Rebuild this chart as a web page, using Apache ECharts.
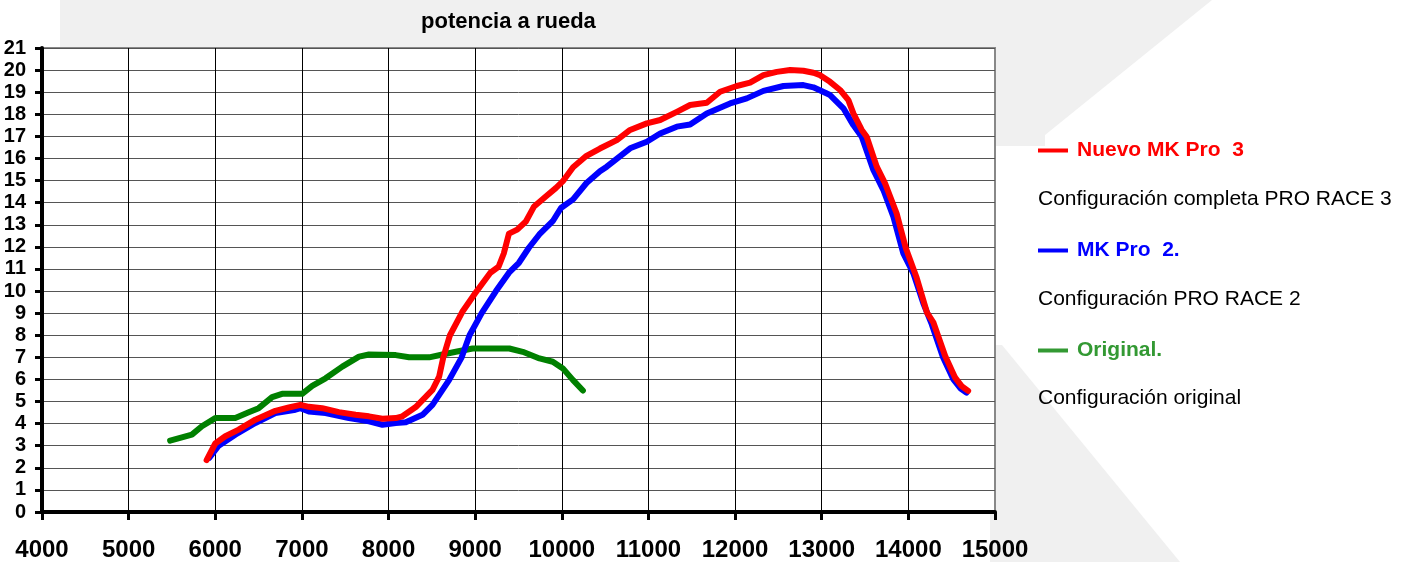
<!DOCTYPE html>
<meta charset="utf-8">
<title>potencia a rueda</title>
<style>
body { margin: 0; background: #fff; }
#main { width: 1401px; height: 562px; }
</style>
<body>
<div id="main"></div>
<script src="https://cdn.jsdelivr.net/npm/echarts@6/dist/echarts.min.js"></script>
<script>
// curvas de potencia [rpm, cv]
var nuevoMkPro3 = [
  [5900, 2.35], [6000, 3.1], [6116, 3.43], [6270, 3.73], [6463, 4.18], [6694, 4.58],
  [6849, 4.73], [6984, 4.85], [7080, 4.76], [7234, 4.7], [7427, 4.52], [7620, 4.4],
  [7774, 4.33], [7929, 4.22], [8083, 4.25], [8160, 4.33], [8314, 4.75], [8507, 5.53],
  [8584, 6.13], [8632, 7.0], [8709, 8.0], [8850, 9.05], [9000, 9.9], [9175, 10.83],
  [9270, 11.1], [9330, 11.7], [9390, 12.6], [9485, 12.78], [9585, 13.15], [9680, 13.83],
  [9815, 14.28], [9930, 14.66], [10010, 14.96], [10130, 15.6], [10285, 16.12], [10440, 16.45],
  [10635, 16.83], [10788, 17.29], [10981, 17.59], [11135, 17.74], [11327, 18.11], [11481, 18.42],
  [11673, 18.52], [11827, 19.02], [12019, 19.28], [12173, 19.43], [12327, 19.77], [12481, 19.92],
  [12635, 20.0], [12788, 19.97], [12904, 19.88], [12981, 19.77], [13096, 19.47], [13212, 19.1],
  [13308, 18.64], [13365, 18.04], [13462, 17.29], [13519, 16.98], [13635, 15.63], [13731, 14.87],
  [13865, 13.51], [13970, 11.95], [14096, 10.6], [14215, 9.02], [14290, 8.57], [14425, 7.06],
  [14540, 6.08], [14615, 5.7], [14690, 5.48]
];
var mkPro2 = [
  [5930, 2.45], [6039, 3.0], [6231, 3.5], [6463, 4.03], [6694, 4.48], [6926, 4.63],
  [6984, 4.7], [7080, 4.55], [7273, 4.48], [7543, 4.25], [7774, 4.1], [7929, 3.95],
  [8083, 4.03], [8199, 4.06], [8392, 4.4], [8507, 4.85], [8700, 5.98], [8844, 7.0],
  [8935, 8.0], [9075, 9.0], [9240, 10.0], [9390, 10.83], [9505, 11.28], [9620, 11.96],
  [9740, 12.56], [9895, 13.16], [9990, 13.76], [10130, 14.15], [10285, 14.89], [10440, 15.42],
  [10519, 15.63], [10788, 16.46], [10981, 16.76], [11135, 17.13], [11327, 17.44], [11481, 17.54],
  [11673, 18.04], [11942, 18.49], [12135, 18.72], [12327, 19.06], [12558, 19.28], [12788, 19.32],
  [12904, 19.22], [13096, 18.87], [13250, 18.27], [13365, 17.51], [13462, 16.98], [13596, 15.48],
  [13712, 14.57], [13827, 13.36], [13942, 11.7], [14058, 10.8], [14173, 9.44], [14270, 8.5],
  [14400, 7.0], [14520, 6.0], [14600, 5.6], [14670, 5.4]
];
var original = [
  [5479, 3.23], [5730, 3.5], [5846, 3.88], [6000, 4.25], [6231, 4.25], [6386, 4.51],
  [6501, 4.7], [6656, 5.2], [6771, 5.35], [7003, 5.35], [7119, 5.71], [7273, 6.05],
  [7466, 6.58], [7659, 7.03], [7774, 7.13], [8083, 7.1], [8237, 7.0], [8469, 7.0],
  [8623, 7.13], [8777, 7.25], [8970, 7.4], [9394, 7.4], [9549, 7.25], [9742, 6.95],
  [9896, 6.8], [10012, 6.5], [10127, 5.98], [10243, 5.5]
];
var seriesNames = ['Nuevo MK Pro  3', 'MK Pro  2.', 'Original.'];
var descripciones = ['Configuración completa PRO RACE 3', 'Configuración PRO RACE 2', 'Configuración original'];

var font = 'Liberation Sans, Arial, sans-serif';
var myChart = echarts.init(document.getElementById('main'));

function leyenda(name, color, top) {
  return {
    orient: 'vertical',
    left: 1038,
    top: top,
    padding: 0,
    icon: 'rect',
    itemWidth: 30,
    itemHeight: 4,
    selectedMode: false,
    data: [{ name: name, itemStyle: { color: color }, textStyle: { color: color } }],
    textStyle: { fontSize: 21, fontWeight: 'bold', fontFamily: font, padding: [0, 0, 0, 4] }
  };
}

function linea(name, data, color, z) {
  return {
    name: name,
    type: 'line',
    data: data,
    symbol: 'none',
    z: z,
    color: color,
    lineStyle: { color: color, width: 6, cap: 'round', join: 'round' }
  };
}

var xColors = [];
for (var i = 0; i < 12; i++) xColors.push(i === 11 ? '#888' : '#000');

var option = {
  animation: false,
  backgroundColor: '#fff',
  grid: {
    left: 42, right: 406, top: 48, bottom: 49,
    show: true, backgroundColor: '#fff', borderColor: '#888', borderWidth: 2
  },
  legend: [
    leyenda(seriesNames[0], '#ff0000', 140),
    leyenda(seriesNames[1], '#0000ff', 240),
    leyenda(seriesNames[2], '#339933', 340)
  ],
  xAxis: {
    type: 'value',
    min: 4000, max: 15000, interval: 1000,
    axisLine: { show: true, lineStyle: { color: '#000', width: 4 } },
    axisTick: { show: true, length: 8, lineStyle: { color: '#000', width: 3 } },
    axisLabel: {
      color: '#000', fontSize: 24, fontWeight: 'bold', fontFamily: font, margin: 26,
      formatter: function (v) { return String(v); }
    },
    splitLine: { show: true, lineStyle: { color: xColors, width: 1 } }
  },
  yAxis: {
    type: 'value',
    min: 0, max: 21, interval: 1,
    axisLine: { show: true, lineStyle: { color: '#000', width: 4 } },
    axisTick: { show: true, length: 7, lineStyle: { color: '#000', width: 3 } },
    axisLabel: { color: '#000', fontSize: 20, fontWeight: 'bold', fontFamily: font, margin: 16 },
    splitLine: { show: true, lineStyle: { color: '#555', width: 1 } }
  },
  graphic: [
    { type: 'polygon', z: -5, silent: true,
      shape: { points: [[60, 0], [1212, 0], [1045, 135], [1045, 146], [990, 146], [990, 47], [60, 47]] },
      style: { fill: '#f0f0f0' } },
    { type: 'polygon', z: -5, silent: true,
      shape: { points: [[990, 345], [1002, 345], [1180, 562], [990, 562]] },
      style: { fill: '#f0f0f0' } },
    { type: 'text', left: 421, top: 11,
      style: { text: 'potencia a rueda', font: 'bold 22px ' + font, fill: '#000' } },
    { type: 'text', left: 1038, top: 189,
      style: { text: descripciones[0], font: '21px ' + font, fill: '#000' } },
    { type: 'text', left: 1038, top: 289,
      style: { text: descripciones[1], font: '21px ' + font, fill: '#000' } },
    { type: 'text', left: 1038, top: 388,
      style: { text: descripciones[2], font: '21px ' + font, fill: '#000' } }
  ],
  series: [
    linea(seriesNames[2], original, '#008000', 2),
    linea(seriesNames[1], mkPro2, '#0000ff', 3),
    linea(seriesNames[0], nuevoMkPro3, '#ff0000', 4)
  ]
};

myChart.setOption(option);
</script>
</body>
